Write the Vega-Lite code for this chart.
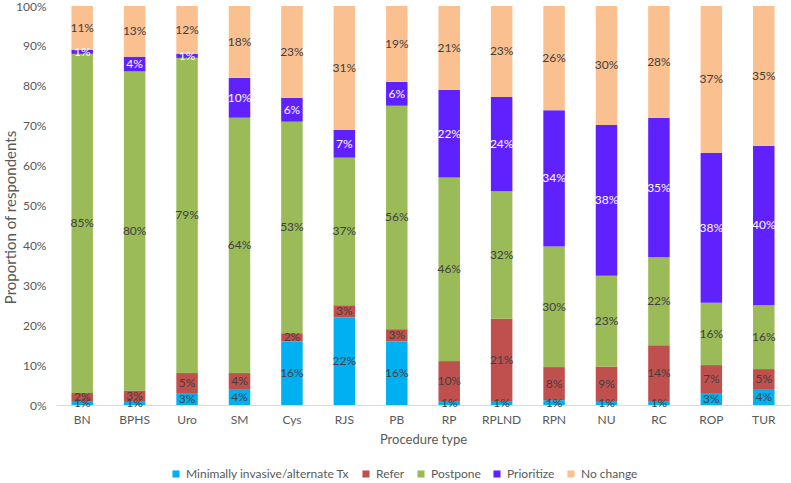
{
  "$schema": "https://vega.github.io/schema/vega-lite/v6.json",
  "width": 734,
  "height": 399,
  "autosize": {"type": "none"},
  "padding": {"left": 56, "top": 6, "right": 1, "bottom": 78},
  "config": {
    "font": "Lato",
    "view": {"stroke": null},
    "axis": {"labelFont": "Lato", "titleFont": "Lato", "labelColor": "#595959", "titleColor": "#595959", "titleFontWeight": "normal"},
    "legend": {"labelFont": "Lato"}
  },
  "data": {
    "values": [
      {"procedure": "BN", "response": "Minimally invasive/alternate Tx", "value": 1},
      {"procedure": "BN", "response": "Refer", "value": 2},
      {"procedure": "BN", "response": "Postpone", "value": 85},
      {"procedure": "BN", "response": "Prioritize", "value": 1},
      {"procedure": "BN", "response": "No change", "value": 11},
      {"procedure": "BPHS", "response": "Minimally invasive/alternate Tx", "value": 1},
      {"procedure": "BPHS", "response": "Refer", "value": 2.6},
      {"procedure": "BPHS", "response": "Postpone", "value": 80},
      {"procedure": "BPHS", "response": "Prioritize", "value": 3.7},
      {"procedure": "BPHS", "response": "No change", "value": 12.7},
      {"procedure": "Uro", "response": "Minimally invasive/alternate Tx", "value": 3},
      {"procedure": "Uro", "response": "Refer", "value": 5},
      {"procedure": "Uro", "response": "Postpone", "value": 79},
      {"procedure": "Uro", "response": "Prioritize", "value": 1},
      {"procedure": "Uro", "response": "No change", "value": 12},
      {"procedure": "SM", "response": "Minimally invasive/alternate Tx", "value": 4},
      {"procedure": "SM", "response": "Refer", "value": 4},
      {"procedure": "SM", "response": "Postpone", "value": 64},
      {"procedure": "SM", "response": "Prioritize", "value": 10},
      {"procedure": "SM", "response": "No change", "value": 18},
      {"procedure": "Cys", "response": "Minimally invasive/alternate Tx", "value": 16},
      {"procedure": "Cys", "response": "Refer", "value": 2},
      {"procedure": "Cys", "response": "Postpone", "value": 53},
      {"procedure": "Cys", "response": "Prioritize", "value": 6},
      {"procedure": "Cys", "response": "No change", "value": 23},
      {"procedure": "RJS", "response": "Minimally invasive/alternate Tx", "value": 22},
      {"procedure": "RJS", "response": "Refer", "value": 3},
      {"procedure": "RJS", "response": "Postpone", "value": 37},
      {"procedure": "RJS", "response": "Prioritize", "value": 7},
      {"procedure": "RJS", "response": "No change", "value": 31},
      {"procedure": "PB", "response": "Minimally invasive/alternate Tx", "value": 16},
      {"procedure": "PB", "response": "Refer", "value": 3},
      {"procedure": "PB", "response": "Postpone", "value": 56},
      {"procedure": "PB", "response": "Prioritize", "value": 6},
      {"procedure": "PB", "response": "No change", "value": 19},
      {"procedure": "RP", "response": "Minimally invasive/alternate Tx", "value": 1},
      {"procedure": "RP", "response": "Refer", "value": 10},
      {"procedure": "RP", "response": "Postpone", "value": 46},
      {"procedure": "RP", "response": "Prioritize", "value": 22},
      {"procedure": "RP", "response": "No change", "value": 21},
      {"procedure": "RPLND", "response": "Minimally invasive/alternate Tx", "value": 1},
      {"procedure": "RPLND", "response": "Refer", "value": 20.6},
      {"procedure": "RPLND", "response": "Postpone", "value": 32},
      {"procedure": "RPLND", "response": "Prioritize", "value": 23.6},
      {"procedure": "RPLND", "response": "No change", "value": 22.8},
      {"procedure": "RPN", "response": "Minimally invasive/alternate Tx", "value": 1.2},
      {"procedure": "RPN", "response": "Refer", "value": 8.3},
      {"procedure": "RPN", "response": "Postpone", "value": 30.2},
      {"procedure": "RPN", "response": "Prioritize", "value": 34.2},
      {"procedure": "RPN", "response": "No change", "value": 26.1},
      {"procedure": "NU", "response": "Minimally invasive/alternate Tx", "value": 1},
      {"procedure": "NU", "response": "Refer", "value": 8.6},
      {"procedure": "NU", "response": "Postpone", "value": 22.8},
      {"procedure": "NU", "response": "Prioritize", "value": 37.8},
      {"procedure": "NU", "response": "No change", "value": 29.8},
      {"procedure": "RC", "response": "Minimally invasive/alternate Tx", "value": 1},
      {"procedure": "RC", "response": "Refer", "value": 14},
      {"procedure": "RC", "response": "Postpone", "value": 22},
      {"procedure": "RC", "response": "Prioritize", "value": 35},
      {"procedure": "RC", "response": "No change", "value": 28},
      {"procedure": "ROP", "response": "Minimally invasive/alternate Tx", "value": 3},
      {"procedure": "ROP", "response": "Refer", "value": 7},
      {"procedure": "ROP", "response": "Postpone", "value": 15.6},
      {"procedure": "ROP", "response": "Prioritize", "value": 37.6},
      {"procedure": "ROP", "response": "No change", "value": 36.8},
      {"procedure": "TUR", "response": "Minimally invasive/alternate Tx", "value": 4},
      {"procedure": "TUR", "response": "Refer", "value": 5},
      {"procedure": "TUR", "response": "Postpone", "value": 16},
      {"procedure": "TUR", "response": "Prioritize", "value": 40},
      {"procedure": "TUR", "response": "No change", "value": 35}
    ]
  },
  "transform": [
    {"calculate": "indexof(['Minimally invasive/alternate Tx','Refer','Postpone','Prioritize','No change'], datum.response)", "as": "ord"},
    {"stack": "value", "groupby": ["procedure"], "sort": [{"field": "ord", "order": "ascending"}], "offset": "normalize", "as": ["y0", "y1"]},
    {"calculate": "(datum.y0 + datum.y1) / 2", "as": "ymid"},
    {"calculate": "datum.y1 - datum.y0", "as": "share"}
  ],
  "encoding": {
    "x": {
      "field": "procedure",
      "type": "nominal",
      "sort": ["BN","BPHS","Uro","SM","Cys","RJS","PB","RP","RPLND","RPN","NU","RC","ROP","TUR"],
      "scale": {"paddingInner": 0.59, "paddingOuter": 0.295},
      "axis": {"title": "Procedure type", "labelAngle": 0, "ticks": false, "domainColor": "#D9D9D9", "labelPadding": 9, "labelFontSize": 12, "titleFontSize": 13, "titlePadding": 8}
    }
  },
  "layer": [
    {
      "mark": {"type": "bar"},
      "encoding": {
        "y": {
          "field": "y0", "type": "quantitative",
          "scale": {"domain": [0, 1]},
          "axis": {"title": "Proportion of respondents", "format": ".0%", "values": [0,0.1,0.2,0.3,0.4,0.5,0.6,0.7,0.8,0.9,1], "labelOverlap": false, "grid": false, "ticks": false, "domain": false, "labelPadding": 10, "labelFontSize": 12, "titleFontSize": 15, "titlePadding": -3, "titleY": 211}
        },
        "y2": {"field": "y1"},
        "color": {
          "field": "response", "type": "nominal",
          "sort": ["Minimally invasive/alternate Tx","Refer","Postpone","Prioritize","No change"],
          "scale": {
            "domain": ["Minimally invasive/alternate Tx","Refer","Postpone","Prioritize","No change"],
            "range": ["#00B0F0","#C0504D","#9BBB59","#6021FF","#FAC090"]
          },
          "legend": {"title": null, "orient": "none", "direction": "horizontal", "legendX": 114, "legendY": 462, "symbolType": "square", "symbolSize": 50, "labelFontSize": 12, "labelColor": "#595959", "labelLimit": 300, "columnPadding": 10, "symbolStrokeWidth": 0}
        }
      }
    },
    {
      "mark": {"type": "text", "fontSize": 12, "font": "Lato"},
      "encoding": {
        "y": {
          "field": "ymid", "type": "quantitative",
          "scale": {"domain": [0, 1]},
          "axis": {"title": "Proportion of respondents", "format": ".0%", "values": [0,0.1,0.2,0.3,0.4,0.5,0.6,0.7,0.8,0.9,1], "labelOverlap": false, "grid": false, "ticks": false, "domain": false, "labelPadding": 10, "labelFontSize": 12, "titleFontSize": 15, "titlePadding": -3, "titleY": 211}
        },
        "text": {"field": "share", "type": "quantitative", "format": ".0%"},
        "color": {"condition": {"test": "datum.response === 'Prioritize'", "value": "#FFFFFF"}, "value": "#404040"}
      }
    }
  ]
}
